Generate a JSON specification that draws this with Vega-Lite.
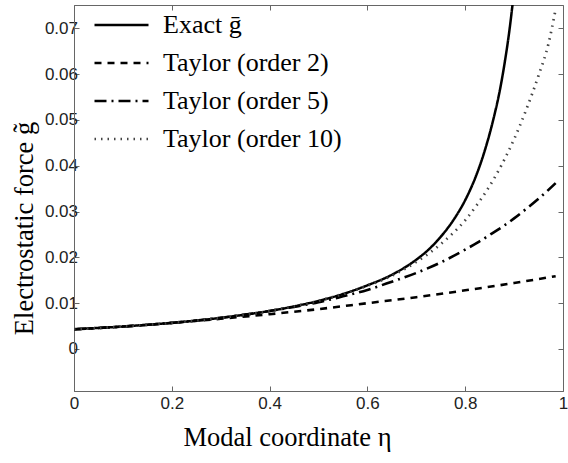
{
  "$schema": "https://vega.github.io/schema/vega-lite/v6.json",
  "width": 489,
  "height": 386,
  "autosize": {"type": "none"},
  "padding": {"left": 74, "top": 5, "right": 5, "bottom": 72},
  "background": "white",
  "config": {
    "view": {"stroke": "#666", "strokeWidth": 1},
    "axis": {
      "domainColor": "#666",
      "tickColor": "#666",
      "tickSize": -5,
      "grid": false,
      "labelFont": "Liberation Sans",
      "labelFontSize": 17,
      "labelColor": "#222",
      "labelFlush": false,
      "titleFont": "Liberation Serif",
      "titleFontSize": 26.5,
      "titleFontWeight": "normal",
      "titleColor": "#000"
    }
  },
  "data": {
    "values": [
      {"eta": 0, "g": 0.0043, "series": "Exact ḡ"},
      {"eta": 0.05, "g": 0.0046, "series": "Exact ḡ"},
      {"eta": 0.1, "g": 0.0049, "series": "Exact ḡ"},
      {"eta": 0.15, "g": 0.0053, "series": "Exact ḡ"},
      {"eta": 0.2, "g": 0.0057, "series": "Exact ḡ"},
      {"eta": 0.25, "g": 0.0062, "series": "Exact ḡ"},
      {"eta": 0.3, "g": 0.0068, "series": "Exact ḡ"},
      {"eta": 0.35, "g": 0.0075, "series": "Exact ḡ"},
      {"eta": 0.4, "g": 0.0083, "series": "Exact ḡ"},
      {"eta": 0.45, "g": 0.0093, "series": "Exact ḡ"},
      {"eta": 0.5, "g": 0.0105, "series": "Exact ḡ"},
      {"eta": 0.55, "g": 0.012, "series": "Exact ḡ"},
      {"eta": 0.6, "g": 0.0139, "series": "Exact ḡ"},
      {"eta": 0.65, "g": 0.0162, "series": "Exact ḡ"},
      {"eta": 0.7, "g": 0.0195, "series": "Exact ḡ"},
      {"eta": 0.725, "g": 0.0217, "series": "Exact ḡ"},
      {"eta": 0.75, "g": 0.0245, "series": "Exact ḡ"},
      {"eta": 0.775, "g": 0.028, "series": "Exact ḡ"},
      {"eta": 0.8, "g": 0.0325, "series": "Exact ḡ"},
      {"eta": 0.82, "g": 0.0372, "series": "Exact ḡ"},
      {"eta": 0.84, "g": 0.0433, "series": "Exact ḡ"},
      {"eta": 0.86, "g": 0.0512, "series": "Exact ḡ"},
      {"eta": 0.87, "g": 0.056, "series": "Exact ḡ"},
      {"eta": 0.88, "g": 0.062, "series": "Exact ḡ"},
      {"eta": 0.89, "g": 0.0692, "series": "Exact ḡ"},
      {"eta": 0.9, "g": 0.0782, "series": "Exact ḡ"},

      {"eta": 0, "g": 0.0043, "series": "Taylor (order 2)"},
      {"eta": 0.1, "g": 0.0049, "series": "Taylor (order 2)"},
      {"eta": 0.2, "g": 0.0057, "series": "Taylor (order 2)"},
      {"eta": 0.3, "g": 0.0066, "series": "Taylor (order 2)"},
      {"eta": 0.4, "g": 0.0076, "series": "Taylor (order 2)"},
      {"eta": 0.5, "g": 0.0087, "series": "Taylor (order 2)"},
      {"eta": 0.6, "g": 0.01, "series": "Taylor (order 2)"},
      {"eta": 0.7, "g": 0.0113, "series": "Taylor (order 2)"},
      {"eta": 0.8, "g": 0.0128, "series": "Taylor (order 2)"},
      {"eta": 0.9, "g": 0.0144, "series": "Taylor (order 2)"},
      {"eta": 0.985, "g": 0.0159, "series": "Taylor (order 2)"},

      {"eta": 0, "g": 0.0043, "series": "Taylor (order 5)"},
      {"eta": 0.1, "g": 0.0049, "series": "Taylor (order 5)"},
      {"eta": 0.2, "g": 0.0057, "series": "Taylor (order 5)"},
      {"eta": 0.3, "g": 0.0068, "series": "Taylor (order 5)"},
      {"eta": 0.4, "g": 0.0083, "series": "Taylor (order 5)"},
      {"eta": 0.45, "g": 0.0092, "series": "Taylor (order 5)"},
      {"eta": 0.5, "g": 0.0102, "series": "Taylor (order 5)"},
      {"eta": 0.55, "g": 0.0115, "series": "Taylor (order 5)"},
      {"eta": 0.6, "g": 0.0129, "series": "Taylor (order 5)"},
      {"eta": 0.65, "g": 0.0147, "series": "Taylor (order 5)"},
      {"eta": 0.7, "g": 0.0166, "series": "Taylor (order 5)"},
      {"eta": 0.75, "g": 0.0189, "series": "Taylor (order 5)"},
      {"eta": 0.8, "g": 0.0217, "series": "Taylor (order 5)"},
      {"eta": 0.825, "g": 0.0232, "series": "Taylor (order 5)"},
      {"eta": 0.85, "g": 0.0249, "series": "Taylor (order 5)"},
      {"eta": 0.875, "g": 0.0266, "series": "Taylor (order 5)"},
      {"eta": 0.9, "g": 0.0285, "series": "Taylor (order 5)"},
      {"eta": 0.925, "g": 0.0306, "series": "Taylor (order 5)"},
      {"eta": 0.95, "g": 0.0328, "series": "Taylor (order 5)"},
      {"eta": 0.985, "g": 0.0362, "series": "Taylor (order 5)"},

      {"eta": 0, "g": 0.0043, "series": "Taylor (order 10)"},
      {"eta": 0.1, "g": 0.0049, "series": "Taylor (order 10)"},
      {"eta": 0.2, "g": 0.0057, "series": "Taylor (order 10)"},
      {"eta": 0.3, "g": 0.0068, "series": "Taylor (order 10)"},
      {"eta": 0.4, "g": 0.0083, "series": "Taylor (order 10)"},
      {"eta": 0.5, "g": 0.0105, "series": "Taylor (order 10)"},
      {"eta": 0.55, "g": 0.012, "series": "Taylor (order 10)"},
      {"eta": 0.6, "g": 0.0138, "series": "Taylor (order 10)"},
      {"eta": 0.65, "g": 0.016, "series": "Taylor (order 10)"},
      {"eta": 0.7, "g": 0.019, "series": "Taylor (order 10)"},
      {"eta": 0.75, "g": 0.0229, "series": "Taylor (order 10)"},
      {"eta": 0.8, "g": 0.0281, "series": "Taylor (order 10)"},
      {"eta": 0.825, "g": 0.0316, "series": "Taylor (order 10)"},
      {"eta": 0.85, "g": 0.0356, "series": "Taylor (order 10)"},
      {"eta": 0.875, "g": 0.0403, "series": "Taylor (order 10)"},
      {"eta": 0.9, "g": 0.0458, "series": "Taylor (order 10)"},
      {"eta": 0.925, "g": 0.0523, "series": "Taylor (order 10)"},
      {"eta": 0.95, "g": 0.0597, "series": "Taylor (order 10)"},
      {"eta": 0.97, "g": 0.0665, "series": "Taylor (order 10)"},
      {"eta": 0.985, "g": 0.0742, "series": "Taylor (order 10)"}
    ]
  },
  "layer": [
    {
      "mark": {"type": "line", "clip": true, "interpolate": "monotone"},
      "encoding": {
        "x": {
          "field": "eta",
          "type": "quantitative",
          "scale": {"domain": [0, 1], "nice": false, "zero": false},
          "axis": {
            "orient": "bottom",
            "values": [0, 0.2, 0.4, 0.6, 0.8, 1],
            "format": "~g",
            "labelPadding": 9,
            "title": "Modal coordinate η",
            "titleX": 213,
            "titleY": 54,
            "titleBaseline": "alphabetic"
          }
        },
        "y": {
          "field": "g",
          "type": "quantitative",
          "scale": {"domain": [-0.00917, 0.07509], "nice": false, "zero": false},
          "axis": {
            "orient": "left",
            "values": [0, 0.01, 0.02, 0.03, 0.04, 0.05, 0.06, 0.07],
            "format": "~g",
            "labelPadding": 1.5,
            "title": "Electrostatic force g̃",
            "titleAngle": -90,
            "titleX": -42,
            "titleY": 223,
            "titleAlign": "center",
            "titleBaseline": "alphabetic"
          }
        },
        "color": {
          "field": "series",
          "type": "nominal",
          "title": null,
          "scale": {
            "domain": ["Exact ḡ", "Taylor (order 2)", "Taylor (order 5)", "Taylor (order 10)"],
            "range": ["#000000", "#000000", "#000000", "#444444"]
          },
          "legend": {
            "orient": "none",
            "legendX": 19,
            "legendY": 1,
            "symbolType": "stroke",
            "symbolSize": 2916,
            "symbolStrokeWidth": 1.3,
            "labelFont": "Liberation Serif",
            "labelFontSize": 26,
            "labelColor": "#000",
            "labelOffset": 13,
            "clipHeight": 38,
            "rowPadding": 0,
            "labelLimit": 400
          }
        },
        "strokeDash": {
          "field": "series",
          "type": "nominal",
          "title": null,
          "scale": {
            "domain": ["Exact ḡ", "Taylor (order 2)", "Taylor (order 5)", "Taylor (order 10)"],
            "range": [[1, 0], [7, 6], [12, 5, 2, 5], [1.5, 5]]
          },
          "legend": {
            "orient": "none",
            "legendX": 19,
            "legendY": 1,
            "symbolType": "stroke",
            "symbolSize": 2916,
            "symbolStrokeWidth": 1.3,
            "labelFont": "Liberation Serif",
            "labelFontSize": 26,
            "labelColor": "#000",
            "labelOffset": 13,
            "clipHeight": 38,
            "rowPadding": 0,
            "labelLimit": 400
          }
        },
        "strokeWidth": {
          "field": "series",
          "type": "nominal",
          "legend": null,
          "scale": {
            "domain": ["Exact ḡ", "Taylor (order 2)", "Taylor (order 5)", "Taylor (order 10)"],
            "range": [2.5, 2.7, 2.5, 1.6]
          }
        }
      }
    },
    {
      "mark": {"type": "line", "opacity": 0},
      "encoding": {
        "x": {
          "field": "eta",
          "type": "quantitative",
          "axis": {
            "orient": "top",
            "values": [0, 0.2, 0.4, 0.6, 0.8, 1],
            "labels": false,
            "domain": false,
            "title": null
          }
        },
        "y": {
          "field": "g",
          "type": "quantitative",
          "axis": {
            "orient": "right",
            "values": [0, 0.01, 0.02, 0.03, 0.04, 0.05, 0.06, 0.07],
            "labels": false,
            "domain": false,
            "title": null
          }
        }
      }
    }
  ],
  "resolve": {"axis": {"x": "independent", "y": "independent"}}
}
